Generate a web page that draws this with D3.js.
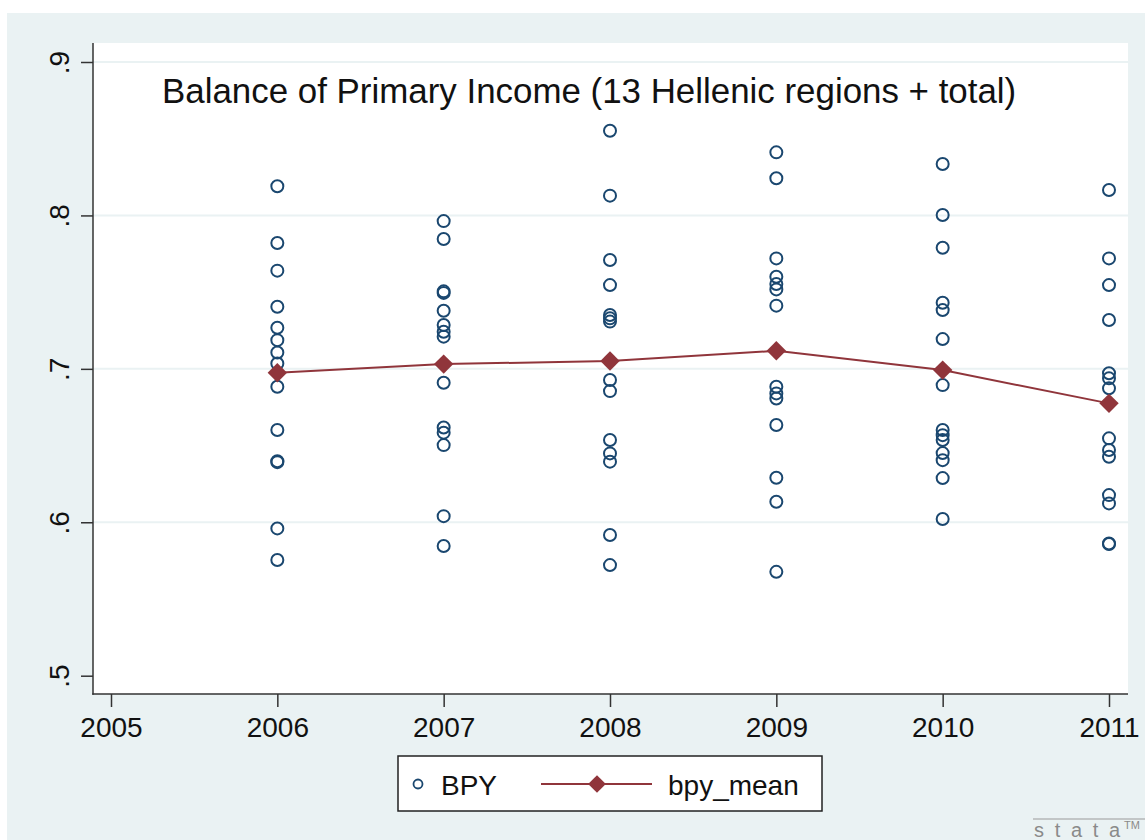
<!DOCTYPE html>
<html>
<head>
<meta charset="utf-8">
<script src="https://cdn.jsdelivr.net/npm/d3@7"></script>
<style>
  html, body { margin: 0; padding: 0; background: #ffffff; }
  svg { display: block; font-family: "Liberation Sans", Arial, sans-serif; }
</style>
</head>
<body>
<svg id="chart" width="1145" height="840"></svg>
<script>
// values, one array per year (13 regions + total)
const years = [2006, 2007, 2008, 2009, 2010, 2011];
const bpy2006 = [0.819, 0.782, 0.764, 0.7405, 0.7268, 0.7187, 0.7107, 0.7035, 0.6883, 0.6601, 0.6398, 0.6392, 0.596, 0.5754];
const bpy2007 = [0.7963, 0.7846, 0.7505, 0.7495, 0.7379, 0.7286, 0.7242, 0.721, 0.6909, 0.6618, 0.6584, 0.6503, 0.604, 0.5845];
const bpy2008 = [0.8552, 0.8129, 0.7709, 0.7546, 0.7351, 0.7329, 0.7308, 0.6927, 0.6855, 0.6536, 0.6449, 0.6395, 0.5917, 0.5721];
const bpy2009 = [0.8411, 0.8242, 0.772, 0.76, 0.7553, 0.7518, 0.7412, 0.6883, 0.684, 0.6807, 0.6634, 0.629, 0.6134, 0.5677];
const bpy2010 = [0.8335, 0.8003, 0.7789, 0.7431, 0.7383, 0.7194, 0.6894, 0.6601, 0.6568, 0.6536, 0.6451, 0.6405, 0.6288, 0.6021];
const bpy2011 = [0.8166, 0.772, 0.7546, 0.7318, 0.6971, 0.6938, 0.6873, 0.6547, 0.6471, 0.6427, 0.6177, 0.6123, 0.5862, 0.5858];
const bpyMean = [0.6975, 0.7031, 0.7051, 0.7118, 0.6992, 0.6775];

const xTicks = [2005, 2006, 2007, 2008, 2009, 2010, 2011];
const yTicks = [0.5, 0.6, 0.7, 0.8, 0.9];
const yGrid = [0.6, 0.7, 0.8, 0.9];

const TITLE = "Balance of Primary Income (13 Hellenic regions + total)";
const BPY_COLOR = "#1a476f";
const MEAN_COLOR = "#90353b";
const REGION_COLOR = "#eaf2f3";

function drawChart() {
  var svg = d3.select("#chart");

  // plot region box
  var pLeft = 93, pRight = 1128, pTop = 43, pBottom = 694;

  var x = d3.scaleLinear().domain([2005, 2011]).range([111, 1109]);
  var y = d3.scaleLinear().domain([0.5, 0.9]).range([675.7, 62]);

  // graph region (light bluish gray) and white plot region
  svg.append("rect")
    .attr("x", 7).attr("y", 13)
    .attr("width", 1145 - 7).attr("height", 840 - 13)
    .attr("fill", REGION_COLOR);
  svg.append("rect")
    .attr("x", pLeft).attr("y", pTop)
    .attr("width", pRight - pLeft).attr("height", pBottom - pTop)
    .attr("fill", "#ffffff");

  // horizontal grid lines
  svg.selectAll("line.grid")
    .data(yGrid)
    .enter().append("line")
      .attr("class", "grid")
      .attr("x1", pLeft).attr("x2", pRight)
      .attr("y1", function(d) { return y(d); })
      .attr("y2", function(d) { return y(d); })
      .attr("stroke", REGION_COLOR)
      .attr("stroke-width", 2);

  // axes (stata drops the leading zero)
  var fmt = function(d) { return d3.format(".1f")(d).replace(/^0/, ""); };

  var yAxis = svg.append("g")
    .attr("transform", "translate(" + pLeft + ",0)")
    .call(d3.axisLeft(y).tickValues(yTicks).tickSize(12).tickFormat(fmt));
  yAxis.select(".domain").remove();
  yAxis.selectAll(".tick line").attr("stroke", "#333").attr("stroke-width", 1.5);
  yAxis.selectAll(".tick text")
    .attr("x", null).attr("dy", null)
    .attr("transform", "translate(-24,0) rotate(-90)")
    .attr("text-anchor", "middle")
    .attr("font-size", 28)
    .attr("font-family", "Liberation Sans, Arial, sans-serif")
    .attr("fill", "#111");

  var xAxis = svg.append("g")
    .attr("transform", "translate(0," + pBottom + ")")
    .call(d3.axisBottom(x).tickValues(xTicks).tickSize(13).tickFormat(d3.format("d")));
  xAxis.select(".domain").remove();
  xAxis.selectAll(".tick line").attr("stroke", "#333").attr("stroke-width", 1.5);
  xAxis.selectAll(".tick text")
    .attr("y", 43).attr("dy", null)
    .attr("font-size", 28)
    .attr("font-family", "Liberation Sans, Arial, sans-serif")
    .attr("fill", "#111");

  // axis lines along the plot region edges
  svg.append("line")
    .attr("x1", pLeft).attr("x2", pLeft).attr("y1", pTop).attr("y2", pBottom + 0.75)
    .attr("stroke", "#333").attr("stroke-width", 1.5);
  svg.append("line")
    .attr("x1", pLeft - 0.75).attr("x2", pRight).attr("y1", pBottom).attr("y2", pBottom)
    .attr("stroke", "#333").attr("stroke-width", 1.5);

  // title
  svg.append("text")
    .attr("x", 162).attr("y", 103)
    .attr("font-size", 34.9)
    .attr("fill", "#111")
    .text(TITLE);

  // scatter of BPY
  var bpy = [bpy2006, bpy2007, bpy2008, bpy2009, bpy2010, bpy2011];
  var points = [];
  years.forEach(function(yr, i) {
    bpy[i].forEach(function(v) { points.push({ year: yr, value: v }); });
  });

  svg.append("g").selectAll("circle")
    .data(points)
    .enter().append("circle")
      .attr("cx", function(d) { return x(d.year); })
      .attr("cy", function(d) { return y(d.value); })
      .attr("r", 6)
      .attr("fill", "none")
      .attr("stroke", BPY_COLOR)
      .attr("stroke-width", 2);

  // mean line with diamonds
  var meanData = years.map(function(yr, i) { return { year: yr, value: bpyMean[i] }; });
  var line = d3.line()
    .x(function(d) { return x(d.year); })
    .y(function(d) { return y(d.value); });

  svg.append("path")
    .datum(meanData)
    .attr("d", line)
    .attr("fill", "none")
    .attr("stroke", MEAN_COLOR)
    .attr("stroke-width", 2);

  var diamond = d3.symbol().type(d3.symbolDiamond2).size(240);
  svg.append("g").selectAll("path")
    .data(meanData)
    .enter().append("path")
      .attr("d", diamond)
      .attr("transform", function(d) { return "translate(" + x(d.year) + "," + y(d.value) + ")"; })
      .attr("fill", MEAN_COLOR);

  // legend
  var legend = svg.append("g");
  legend.append("rect")
    .attr("x", 398).attr("y", 756)
    .attr("width", 424).attr("height", 55)
    .attr("fill", "#ffffff")
    .attr("stroke", "#222")
    .attr("stroke-width", 1.5);
  legend.append("circle")
    .attr("cx", 418).attr("cy", 784).attr("r", 4.5)
    .attr("fill", "none").attr("stroke", BPY_COLOR).attr("stroke-width", 1.8);
  legend.append("text")
    .attr("x", 441).attr("y", 795)
    .attr("font-size", 28).attr("fill", "#111")
    .text("BPY");
  legend.append("line")
    .attr("x1", 541).attr("x2", 652).attr("y1", 784).attr("y2", 784)
    .attr("stroke", MEAN_COLOR).attr("stroke-width", 2);
  legend.append("path")
    .attr("d", d3.symbol().type(d3.symbolDiamond2).size(200))
    .attr("transform", "translate(597,784)")
    .attr("fill", MEAN_COLOR);
  legend.append("text")
    .attr("x", 668).attr("y", 795)
    .attr("font-size", 28).attr("fill", "#111")
    .text("bpy_mean");

  // stata mark, bottom right
  svg.append("line")
    .attr("x1", 1033).attr("x2", 1145).attr("y1", 819).attr("y2", 819)
    .attr("stroke", "#9a9a9a").attr("stroke-width", 1);
  svg.append("text")
    .attr("x", 1034).attr("y", 837)
    .attr("font-size", 20)
    .attr("textLength", 86)
    .attr("lengthAdjust", "spacing")
    .attr("fill", "#8a8a8a")
    .text("stata");
  svg.append("text")
    .attr("x", 1124).attr("y", 829)
    .attr("font-size", 11)
    .attr("fill", "#8a8a8a")
    .text("TM");
}

drawChart();
</script>
</body>
</html>
